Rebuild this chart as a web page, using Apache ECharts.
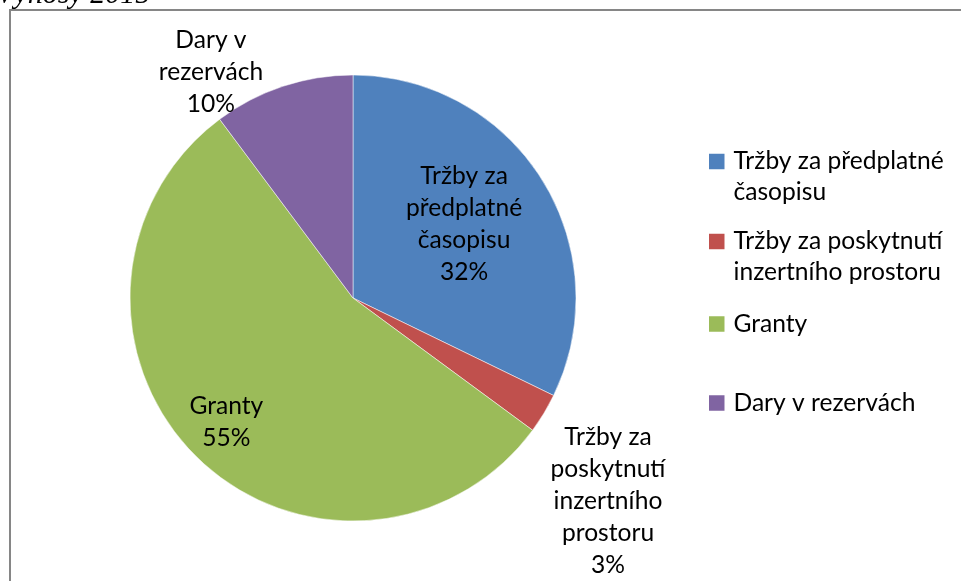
<!DOCTYPE html>
<html>
<head>
<meta charset="utf-8">
<script src="https://cdn.jsdelivr.net/npm/echarts@6/dist/echarts.min.js"></script>
<style>
  html, body { margin: 0; padding: 0; background: #fff; }
  #chart { width: 961px; height: 581px; }
</style>
</head>
<body>
<div id="chart"></div>
<script>
// ---- data ----
const categories = [
  'Tržby za předplatné časopisu',
  'Tržby za poskytnutí inzertního prostoru',
  'Granty',
  'Dary v rezervách'
];
const values = [32.2, 2.9, 54.7, 10.2];
const sliceLabels = [
  'Tržby za\npředplatné\nčasopisu',
  'Tržby za\nposkytnutí\ninzertního\nprostoru',
  'Granty',
  'Dary v\nrezervách'
];
const legendLabels = [
  'Tržby za předplatné\nčasopisu',
  'Tržby za poskytnutí\ninzertního prostoru',
  'Granty',
  'Dary v rezervách'
];
const titleText = 'Výnosy 2015';

// ---- style ----
const colors = ['#4F81BD', '#C0504D', '#9BBB59', '#8064A2'];
const FONT = 'Lato';
const FS = 24.6;
const LH = 32;
const LEG_LH = 31;
const labelShift = [[14, -13], [157, 144], [-46, 43], [-106, -117]];
const legendCenters = [161.5, 241.5, 324, 403];

const chart = echarts.init(document.getElementById('chart'), null, { renderer: 'canvas' });

const legends = categories.map((name, i) => {
  const nLines = legendLabels[i].split('\n').length;
  // for multi-line items a leading empty line keeps the marker level with the first line
  const text = nLines > 1 ? '\n' + legendLabels[i] : legendLabels[i];
  const totalLines = nLines > 1 ? nLines + 1 : 1;
  return {
    data: [name],
    left: 707,
    top: legendCenters[i] - totalLines * LEG_LH / 2,
    orient: 'vertical',
    padding: 0,
    itemWidth: 17.5,
    itemHeight: 17.5,
    icon: 'rect',
    selectedMode: false,
    formatter: () => text,
    textStyle: {
      fontFamily: FONT,
      fontSize: FS,
      lineHeight: LEG_LH,
      color: '#000',
      padding: [0, 0, 0, 3]
    }
  };
});

chart.setOption({
  animation: false,
  color: colors,
  graphic: [
    {
      type: 'rect',
      shape: { x: 10, y: 10, width: 1200, height: 1200 },
      style: { fill: 'none', stroke: '#868686', lineWidth: 2 },
      silent: true,
      z: 0
    },
    {
      type: 'text',
      x: -4,
      y: -5,
      style: {
        text: titleText,
        fontFamily: 'Liberation Serif',
        fontStyle: 'italic',
        fontSize: 30,
        fill: '#000',
        verticalAlign: 'middle',
        align: 'left'
      },
      silent: true
    }
  ],
  legend: legends,
  series: [{
    type: 'pie',
    center: [353, 298],
    radius: 223,
    startAngle: 90,
    clockwise: true,
    silent: true,
    emphasis: { disabled: true },
    itemStyle: { borderColor: '#ffffff', borderWidth: 0.5 },
    label: {
      show: true,
      position: 'inside',
      fontFamily: FONT,
      fontSize: FS,
      lineHeight: LH,
      color: '#000',
      align: 'center',
      formatter: p => sliceLabels[p.dataIndex] + '\n' + Math.round(p.percent) + '%'
    },
    labelLine: { show: false },
    labelLayout: p => ({ dx: labelShift[p.dataIndex][0], dy: labelShift[p.dataIndex][1] }),
    data: categories.map((c, i) => ({ name: c, value: values[i] }))
  }]
});
</script>
</body>
</html>
